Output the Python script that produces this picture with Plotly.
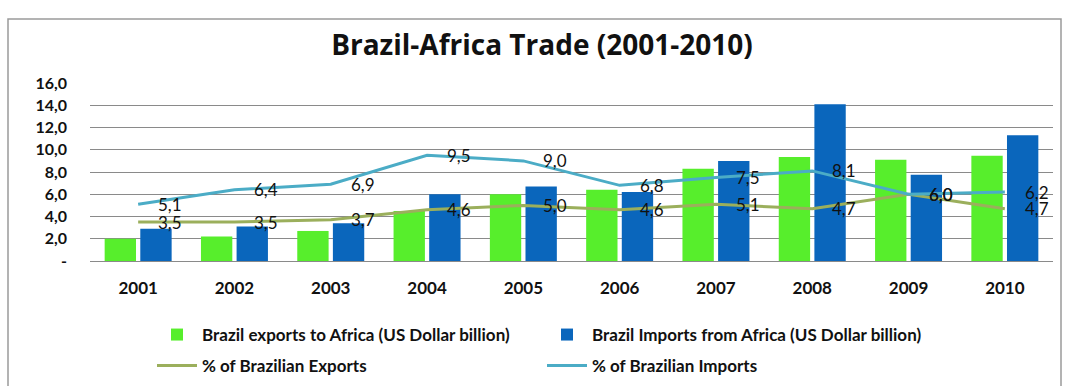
import plotly.graph_objects as go

years = ["2001", "2002", "2003", "2004", "2005", "2006", "2007", "2008", "2009", "2010"]
exports_usd = [2.0, 2.2, 2.7, 4.5, 6.0, 6.4, 8.3, 9.35, 9.1, 9.45]
imports_usd = [2.9, 3.1, 3.4, 6.0, 6.7, 6.2, 9.0, 14.1, 7.75, 11.3]
pct_exports = [3.5, 3.5, 3.7, 4.6, 5.0, 4.6, 5.1, 4.7, 6.0, 4.7]
pct_imports = [5.1, 6.4, 6.9, 9.5, 9.0, 6.8, 7.5, 8.1, 6.0, 6.2]
y_tickvals = [0, 2, 4, 6, 8, 10, 12, 14, 16]
y_ticktext = ["-", "2,0", "4,0", "6,0", "8,0", "10,0", "12,0", "14,0", "16,0"]

xpos = list(range(len(years)))

W, H = 1065, 386
L, R, T, B = 90, 12, 83, 125
pw, ph = W - L - R, H - T - B

def px2x(px):
    return (px - L) / pw

def py2y(py):
    return (H - B - py) / ph

FONT = "Lato"
C_EXP = "#57EE2C"
C_IMP = "#0A66BC"
C_PEXP = "#9BAF5C"
C_PIMP = "#4BACC6"

fig = go.Figure()
fig.add_trace(go.Bar(x=xpos, y=exports_usd, name="<b>Brazil exports to Africa (US Dollar billion)</b>",
                     marker=dict(color=C_EXP, line=dict(width=0)), legend="legend"))
fig.add_trace(go.Bar(x=xpos, y=imports_usd, name="<b>Brazil Imports from Africa (US Dollar billion)</b>",
                     marker=dict(color=C_IMP, line=dict(width=0)), legend="legend"))
fig.add_trace(go.Scatter(x=xpos, y=pct_exports, name="<b>% of Brazilian Exports</b>", mode="lines",
                         line=dict(color=C_PEXP, width=3), legend="legend2"))
fig.add_trace(go.Scatter(x=xpos, y=pct_imports, name="<b>% of Brazilian Imports</b>", mode="lines",
                         line=dict(color=C_PIMP, width=3), legend="legend2"))

def fmt(v):
    return f"{v:.1f}".replace(".", ",")

for series in (pct_exports, pct_imports):
    for xi, v in zip(xpos, series):
        fig.add_annotation(x=xi, y=v, text=fmt(v), showarrow=False, xanchor="left",
                           yanchor="middle", xshift=18,
                           font=dict(family=FONT, size=17, color="#111111"))

# outer frame
fig.add_shape(type="rect", xref="paper", yref="paper",
              x0=px2x(8), x1=px2x(1061), y0=py2y(420), y1=py2y(19),
              line=dict(color="#9a9a9a", width=1.5), fillcolor="rgba(0,0,0,0)", layer="below")

fig.update_layout(
    width=W, height=H,
    margin=dict(l=L, r=R, t=T, b=B, autoexpand=False),
    paper_bgcolor="white", plot_bgcolor="white",
    barmode="group", bargap=0.26, bargroupgap=0.12,
    title=dict(text="<b>Brazil-Africa Trade (2001-2010)</b>", x=px2x(542), xref="paper",
               xanchor="center", y=1 - 45 / H, yanchor="middle",
               font=dict(family="Open Sans", size=28, color="#111111")),
    font=dict(family=FONT, color="#111111"),
    showlegend=True,
    legend=dict(orientation="h", x=px2x(152), y=py2y(335), xanchor="left", yanchor="middle",
                entrywidth=335, entrywidthmode="pixels", bgcolor="rgba(0,0,0,0)",
                font=dict(family=FONT, size=17, color="#111111"), itemwidth=40),
    legend2=dict(orientation="h", x=px2x(152), y=py2y(366), xanchor="left", yanchor="middle",
                 entrywidth=335, entrywidthmode="pixels", bgcolor="rgba(0,0,0,0)",
                 font=dict(family=FONT, size=17, color="#111111"), itemwidth=40),
    xaxis=dict(range=[-0.5, len(years) - 0.5], tickvals=xpos, ticktext=[f"<b>{y}</b>" for y in years],
               showgrid=False, showline=True, linecolor="#8a8a8a", linewidth=1, zeroline=False,
               ticks="", tickfont=dict(family=FONT, size=17, color="#111111"), ticklabelstandoff=12),
    yaxis=dict(range=[0, 16], tickvals=y_tickvals, ticktext=[f"<b>{t}</b>" for t in y_ticktext],
               showgrid=True, gridcolor="#8a8a8a", gridwidth=1, zeroline=False, showline=False,
               tickfont=dict(family=FONT, size=16, color="#111111"), ticklabelstandoff=22),
)

fig.write_html("out.html")
